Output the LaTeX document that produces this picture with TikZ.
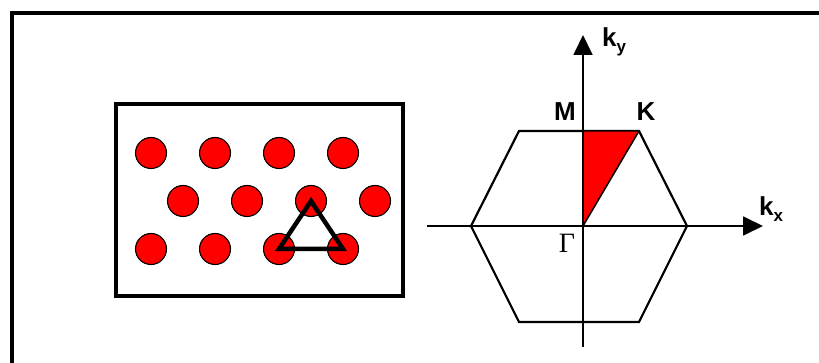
\documentclass[tikz,border=0pt]{standalone}
\usepackage{fontspec}
\setmainfont{Liberation Sans}
\newfontfamily\serifgr{Liberation Serif}
\usetikzlibrary{arrows.meta}
\tikzset{
  atom/.style={circle, fill=red, draw=black, line width=1.1pt, minimum size=31pt, inner sep=0pt},
  axis/.style={line width=1.8pt, -{Triangle[length=20pt,width=19pt]}},
  lbl/.style={font=\bfseries\fontsize{26}{26}\selectfont, inner sep=0pt},
}
\newcommand{\ksub}[1]{k\raisebox{-0.2em}{\fontsize{17}{17}\selectfont #1}}

\begin{document}
\begin{tikzpicture}[x=1pt,y=-1pt]
\useasboundingbox (0,0) rectangle (819,363);
% outer frame, cut at right and bottom
\draw[line width=3.5pt] (12,363) |- (819,13);
% crystal
\draw[line width=4pt] (116,104) rectangle (403,296);
\node[atom] (a11) at (151,153) {};
\node[atom] (a12) at (215,153) {};
\node[atom] (a13) at (279,153) {};
\node[atom] (a14) at (343,153) {};
\node[atom] (a21) at (183,201) {};
\node[atom] (a22) at (247,201) {};
\node[atom] (a23) at (311,201) {};
\node[atom] (a24) at (375,201) {};
\node[atom] (a31) at (151,249) {};
\node[atom] (a32) at (215,249) {};
\node[atom] (a33) at (279,249) {};
\node[atom] (a34) at (343,249) {};
\draw[line width=4.5pt, line join=miter] (a23.center) -- (a33.center) -- (a34.center) -- cycle;
% brillouin zone
\draw[line width=2.2pt] (471,226) -- (519,131) -- (639,131) -- (687,226) -- (639,322) -- (519,322) -- cycle;
\filldraw[fill=red, line width=1.5pt] (583,226) -- (583,131) -- (639,131) -- cycle;
\draw[axis] (427,226) -- (763,226);
\draw[axis] (583,347) -- (583,35);
\node[lbl, anchor=base west] (ky) at (602,47) {\ksub{y}};
\node[lbl, anchor=base west] (kx) at (759,216) {\ksub{x}};
\node[lbl, anchor=base] (M) at (565,121) {M};
\node[lbl, anchor=base] (K) at (646,121) {K};
\node[font=\serifgr\fontsize{28}{28}\selectfont, anchor=base, inner sep=0pt] (Gam) at (567,253) {Γ};
\end{tikzpicture}
\end{document}
